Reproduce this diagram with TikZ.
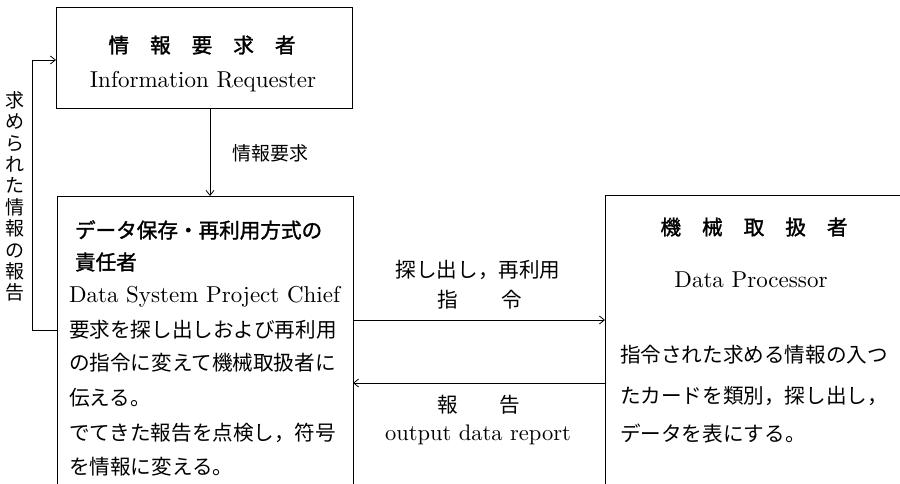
\documentclass[tikz,border=0pt]{standalone}
\usepackage{fontspec}
\usetikzlibrary{arrows.meta}
\newfontfamily\cjk{Noto Sans CJK JP}
\newfontfamily\cjkb{Noto Sans CJK JP}[FakeBold=1.5]
\newfontfamily\lmten{lmroman10-regular.otf}
\newcommand{\jsz}{\fontsize{20.6}{24}\selectfont}
\newcommand{\esz}{\lmten\fontsize{23}{27}\selectfont}
\newcommand{\gap}{\hspace{21pt}}
\begin{document}
\begin{tikzpicture}[x=1pt,y=-1pt,
  box/.style={draw, line width=0.9pt, inner sep=0pt, outer sep=0pt},
  arr/.style={line width=0.8pt, -{Straight Barb[length=5pt,width=8pt]}},
  lab/.style={inner sep=0pt, outer sep=0pt},
  jtxt/.style={lab, anchor=west, font=\cjk\jsz},
  jtitle/.style={lab, font=\cjkb\jsz},
  etxt/.style={lab, font=\esz}]
\useasboundingbox (0,0) rectangle (900,484);
\clip (0,0) rectangle (900,484);
% boxes
\node[box, minimum width=296pt, minimum height=101pt, anchor=north west] (req) at (56,7) {};
\node[box, minimum width=296pt, minimum height=330pt, anchor=north west] (mid) at (57,196) {};
\node[box, minimum width=330pt, minimum height=330pt, anchor=north west] (proc) at (605,195) {};
% top box text
\node[jtitle] (reqj) at (202,45) {情\gap 報\gap 要\gap 求\gap 者};
\node[etxt] (reqe) at (203,82) {Information Requester};
% down arrow
\coordinate (cdown) at (210,150);
\draw[arr] (req.south -| cdown) -- (mid.north -| cdown);
\node[lab, font=\cjk\fontsize{19}{22}\selectfont] (reqlab) at (270,153) {情報要求};
% middle box text
\node[jtitle, anchor=west] (midj1) at (75,230) {データ保存・再利用方式の};
\node[jtitle, anchor=west] (midj2) at (75,262) {責任者};
\node[etxt, anchor=west] (mide) at (69,297) {Data System Project Chief};
\node[jtxt] (midb1) at (69,330) {要求を探し出しおよび再利用};
\node[jtxt] (midb2) at (69,363) {の指令に変えて機械取扱者に};
\node[jtxt] (midb3) at (69,398) {伝える。};
\node[jtxt] (midb4) at (69,433) {でてきた報告を点検し，符号};
\node[jtxt] (midb5) at (69,467) {を情報に変える。};
% right box text
\node[jtitle] (procj) at (754,227) {機\gap 械\gap 取\gap 扱\gap 者};
\node[etxt] (proce) at (751,280) {Data Processor};
\node[jtxt] (procb1) at (620,355) {指令された求める情報の入つ};
\node[jtxt] (procb2) at (620,396) {たカードを類別，探し出し，};
\node[jtxt] (procb3) at (620,434) {データを表にする。};
% horizontal arrows
\coordinate (cup) at (480,320);
\coordinate (clow) at (480,383);
\draw[arr] (mid.east |- cup) -- (proc.west |- cup);
\draw[arr] (proc.west |- clow) -- (mid.east |- clow);
\node[lab, font=\cjk\jsz] (cmd1) at (478,270) {探し出し，再利用};
\node[lab, font=\cjk\jsz] (cmd2) at (480,300) {指\hspace{44pt}令};
\node[lab, font=\cjk\jsz] (rep1) at (479,405) {報\hspace{42pt}告};
\node[lab, font=\lmten\fontsize{22.5}{26}\selectfont] (rep2) at (478,435) {output data report};
% feedback
\coordinate (fbb) at (32,330);
\coordinate (fbt) at (32,60);
\draw[arr] (mid.west |- fbb) -- (fbb) -- (fbt) -- (req.west |- fbt);
\node[lab, align=center, font=\cjk\fontsize{19}{21.4}\selectfont] (fblab) at (15,196.5)
  {求\\め\\ら\\れ\\た\\情\\報\\の\\報\\告};
\end{tikzpicture}
\end{document}
